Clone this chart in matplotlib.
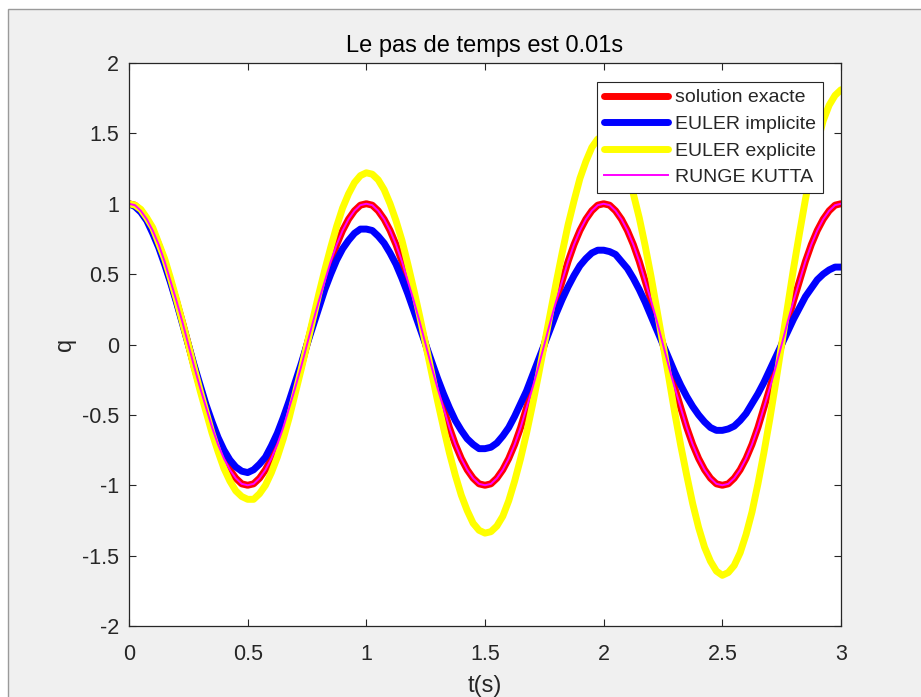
import numpy as np
import matplotlib
matplotlib.use("Agg")
import matplotlib.pyplot as plt
from matplotlib.patches import Rectangle

plt.rcParams['font.family'] = ['Liberation Sans', 'DejaVu Sans']
plt.rcParams['axes.unicode_minus'] = False

t_step = 0.025
n_pts = 121

q_exact = [
    1.00, 0.99, 0.95, 0.89, 0.81, 0.71, 0.59, 0.45, 0.31, 0.16,
    0.00, -0.16, -0.31, -0.45, -0.59, -0.71, -0.81, -0.89, -0.95, -0.99,
    -1.00, -0.99, -0.95, -0.89, -0.81, -0.71, -0.59, -0.45, -0.31, -0.16,
    0.00, 0.16, 0.31, 0.45, 0.59, 0.71, 0.81, 0.89, 0.95, 0.99,
    1.00, 0.99, 0.95, 0.89, 0.81, 0.71, 0.59, 0.45, 0.31, 0.16,
    0.00, -0.16, -0.31, -0.45, -0.59, -0.71, -0.81, -0.89, -0.95, -0.99,
    -1.00, -0.99, -0.95, -0.89, -0.81, -0.71, -0.59, -0.45, -0.31, -0.16,
    0.00, 0.16, 0.31, 0.45, 0.59, 0.71, 0.81, 0.89, 0.95, 0.99,
    1.00, 0.99, 0.95, 0.89, 0.81, 0.71, 0.59, 0.45, 0.31, 0.16,
    0.00, -0.16, -0.31, -0.45, -0.59, -0.71, -0.81, -0.89, -0.95, -0.99,
    -1.00, -0.99, -0.95, -0.89, -0.81, -0.71, -0.59, -0.45, -0.31, -0.16,
    0.00, 0.16, 0.31, 0.45, 0.59, 0.71, 0.81, 0.89, 0.95, 0.99,
    1.00,
]

q_euler_implicit = [
    1.00, 0.98, 0.94, 0.88, 0.79, 0.69, 0.57, 0.44, 0.30, 0.15,
    0.00, -0.15, -0.29, -0.43, -0.55, -0.66, -0.75, -0.82, -0.87, -0.90,
    -0.91, -0.89, -0.85, -0.80, -0.72, -0.63, -0.52, -0.40, -0.27, -0.14,
    0.00, 0.13, 0.26, 0.39, 0.50, 0.60, 0.68, 0.74, 0.79, 0.82,
    0.82, 0.81, 0.77, 0.72, 0.65, 0.57, 0.47, 0.36, 0.24, 0.12,
    0.00, -0.12, -0.24, -0.35, -0.45, -0.54, -0.61, -0.67, -0.71, -0.74,
    -0.74, -0.73, -0.70, -0.65, -0.59, -0.51, -0.42, -0.33, -0.22, -0.11,
    0.00, 0.11, 0.22, 0.32, 0.41, 0.49, 0.56, 0.61, 0.65, 0.67,
    0.67, 0.66, 0.64, 0.59, 0.54, 0.47, 0.39, 0.30, 0.20, 0.10,
    0.00, -0.10, -0.20, -0.29, -0.37, -0.44, -0.50, -0.55, -0.59, -0.61,
    -0.61, -0.60, -0.58, -0.54, -0.49, -0.42, -0.35, -0.27, -0.18, -0.09,
    0.00, 0.09, 0.18, 0.26, 0.34, 0.40, 0.46, 0.50, 0.53, 0.55,
    0.55,
]

q_euler_explicit = [
    1.00, 0.99, 0.96, 0.90, 0.83, 0.72, 0.61, 0.47, 0.32, 0.16,
    0.00, -0.17, -0.33, -0.48, -0.63, -0.76, -0.88, -0.97, -1.04, -1.08,
    -1.10, -1.10, -1.06, -1.00, -0.91, -0.80, -0.67, -0.52, -0.35, -0.18,
    0.00, 0.18, 0.36, 0.53, 0.69, 0.84, 0.97, 1.07, 1.15, 1.20,
    1.22, 1.21, 1.17, 1.10, 1.00, 0.88, 0.74, 0.57, 0.39, 0.20,
    0.00, -0.20, -0.40, -0.59, -0.77, -0.93, -1.07, -1.18, -1.27, -1.32,
    -1.34, -1.33, -1.29, -1.22, -1.11, -0.97, -0.81, -0.63, -0.43, -0.22,
    0.00, 0.22, 0.44, 0.65, 0.85, 1.02, 1.18, 1.30, 1.40, 1.46,
    1.48, 1.47, 1.42, 1.34, 1.22, 1.07, 0.90, 0.70, 0.48, 0.24,
    0.00, -0.24, -0.49, -0.72, -0.93, -1.13, -1.30, -1.44, -1.54, -1.61,
    -1.64, -1.62, -1.57, -1.48, -1.35, -1.19, -0.99, -0.77, -0.53, -0.27,
    0.00, 0.27, 0.54, 0.79, 1.03, 1.25, 1.43, 1.59, 1.70, 1.77,
    1.81,
]

q_runge_kutta = [
    1.00, 0.99, 0.95, 0.89, 0.81, 0.71, 0.59, 0.45, 0.31, 0.16,
    0.00, -0.16, -0.31, -0.45, -0.59, -0.71, -0.81, -0.89, -0.95, -0.99,
    -1.00, -0.99, -0.95, -0.89, -0.81, -0.71, -0.59, -0.45, -0.31, -0.16,
    0.00, 0.16, 0.31, 0.45, 0.59, 0.71, 0.81, 0.89, 0.95, 0.99,
    1.00, 0.99, 0.95, 0.89, 0.81, 0.71, 0.59, 0.45, 0.31, 0.16,
    0.00, -0.16, -0.31, -0.45, -0.59, -0.71, -0.81, -0.89, -0.95, -0.99,
    -1.00, -0.99, -0.95, -0.89, -0.81, -0.71, -0.59, -0.45, -0.31, -0.16,
    0.00, 0.16, 0.31, 0.45, 0.59, 0.71, 0.81, 0.89, 0.95, 0.99,
    1.00, 0.99, 0.95, 0.89, 0.81, 0.71, 0.59, 0.45, 0.31, 0.16,
    0.00, -0.16, -0.31, -0.45, -0.59, -0.71, -0.81, -0.89, -0.95, -0.99,
    -1.00, -0.99, -0.95, -0.89, -0.81, -0.71, -0.59, -0.45, -0.31, -0.16,
    0.00, 0.16, 0.31, 0.45, 0.59, 0.71, 0.81, 0.89, 0.95, 0.99,
    1.00,
]

series_labels = ["solution exacte", "EULER implicite", "EULER explicite", "RUNGE KUTTA"]
x_ticks = [0, 0.5, 1, 1.5, 2, 2.5, 3]
x_ticklabels = ["0", "0.5", "1", "1.5", "2", "2.5", "3"]
y_ticks = [-2, -1.5, -1, -0.5, 0, 0.5, 1, 1.5, 2]
y_ticklabels = ["-2", "-1.5", "-1", "-0.5", "0", "0.5", "1", "1.5", "2"]
title_text = "Le pas de temps est 0.01s"
x_label = "t(s)"
y_label = "q"

t = np.round(np.arange(n_pts) * t_step, 4)

# ---- figure ----
W, H = 921, 697
fig = plt.figure(figsize=(W / 100, H / 100), dpi=100, facecolor="white")
# window-like frame (white strip top/left, gray panel)
fig.patches.append(Rectangle((7.5 / W, -0.05), 1.2, (H - 9) / H + 0.05,
                             transform=fig.transFigure, facecolor="#f0f0f0",
                             edgecolor="#9a9a9a", linewidth=1.0, zorder=-10))

ax_l, ax_r, ax_t, ax_b = 129, 841, 63, 626
ax = fig.add_axes([ax_l / W, 1 - ax_b / H, (ax_r - ax_l) / W, (ax_b - ax_t) / H])
ax.set_facecolor("white")

lw_thick = 5.0
ax.plot(t, q_exact, color=(1, 0, 0), lw=lw_thick, label=series_labels[0],
        solid_joinstyle="round", solid_capstyle="round")
ax.plot(t, q_euler_implicit, color=(0, 0, 1), lw=lw_thick, label=series_labels[1],
        solid_joinstyle="round", solid_capstyle="round")
ax.plot(t, q_euler_explicit, color=(1, 1, 0), lw=lw_thick, label=series_labels[2],
        solid_joinstyle="round", solid_capstyle="round")
ax.plot(t, q_runge_kutta, color=(1, 0, 1), lw=1.4, label=series_labels[3])

ax.set_xlim(0, 3)
ax.set_ylim(-2, 2)
ax.set_xticks(x_ticks)
ax.set_xticklabels(x_ticklabels)
ax.set_yticks(y_ticks)
ax.set_yticklabels(y_ticklabels)

axis_col = "#262626"
for sp in ax.spines.values():
    sp.set_color(axis_col)
    sp.set_linewidth(0.9)
ax.tick_params(axis="both", direction="in", top=True, right=True, length=5,
               width=0.8, color=axis_col, labelcolor=axis_col, labelsize=15.5)
ax.tick_params(axis="x", pad=13)
ax.tick_params(axis="y", pad=7)

ax.set_title(title_text, fontsize=17, color="black", y=1 + (ax_t - 46) / (ax_b - ax_t),
             pad=0, va="center")
ax.set_xlabel(x_label, fontsize=17, color=axis_col)
ax.xaxis.label.set_va("center")
ax.xaxis.set_label_coords(0.5, -(686 - ax_b) / (ax_b - ax_t))
ax.set_ylabel(y_label, fontsize=17, color=axis_col)
ax.yaxis.label.set_va("center")
ax.yaxis.set_label_coords(-(ax_l - 65) / (ax_r - ax_l), 0.5)

leg = ax.legend(loc="upper right",
                bbox_to_anchor=((823 - ax_l) / (ax_r - ax_l), 1 - (82 - ax_t) / (ax_b - ax_t)),
                borderaxespad=0, fontsize=14, frameon=True, fancybox=False,
                framealpha=1, edgecolor=axis_col, handlelength=3.3,
                handletextpad=0.35, borderpad=0.35, labelspacing=0.46)
leg.get_frame().set_linewidth(0.8)
for txt in leg.get_texts():
    txt.set_color(axis_col)

fig.savefig("out.png", dpi=100, facecolor=fig.get_facecolor())
